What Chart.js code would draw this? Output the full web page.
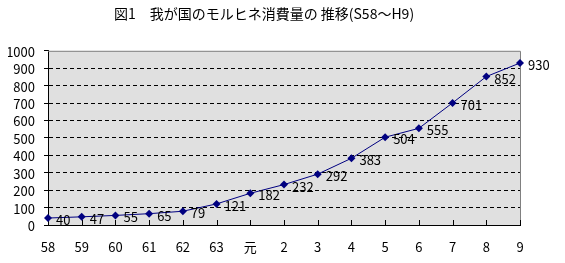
<!DOCTYPE html>
<html>
<head>
<meta charset="utf-8">
<script src="https://cdn.jsdelivr.net/npm/chart.js@4"></script>
<style>
  html, body { margin: 0; padding: 0; background: #fff; }
</style>
</head>
<body>
<canvas id="morphineChart" width="565" height="263"></canvas>
<script>
// データ (S58〜H9)
const years = ["58", "59", "60", "61", "62", "63", "元", "2", "3", "4", "5", "6", "7", "8", "9"];
const usage = [40, 47, 55, 65, 79, 121, 182, 232, 292, 383, 504, 555, 701, 852, 930];
const yMin = 0;
const yMax = 1000;
const yStep = 100;
const chartTitle = "図1　我が国のモルヒネ消費量の 推移(S58～H9)";

const FONT = '"Noto Sans CJK JP", "Noto Sans", sans-serif';

// gray plot background + gray top/right frame + inner x tick marks
const plotFrame = {
  id: "plotFrame",
  beforeDraw(chart) {
    const { ctx, chartArea: a } = chart;
    ctx.save();
    ctx.fillStyle = "#e0e0e0";
    ctx.fillRect(a.left, a.top, a.right - a.left, a.bottom - a.top);
    ctx.restore();
  },
  beforeDatasetsDraw(chart) {
    const { ctx, chartArea: a } = chart;
    const xs = chart.scales.x;
    ctx.save();
    ctx.lineWidth = 1;
    ctx.strokeStyle = "#808080";
    ctx.beginPath();
    ctx.moveTo(a.left, a.top + 0.5);
    ctx.lineTo(a.right + 0.5, a.top + 0.5);
    ctx.lineTo(a.right + 0.5, a.bottom);
    ctx.stroke();
    ctx.strokeStyle = "#000";
    ctx.beginPath();
    xs.ticks.forEach((t, i) => {
      const x = Math.round(xs.getPixelForTick(i)) + 0.5;
      ctx.moveTo(x, a.bottom);
      ctx.lineTo(x, a.bottom - 5);
    });
    ctx.stroke();
    ctx.restore();
  }
};

// value labels to the right of each point
const pointLabels = {
  id: "pointLabels",
  afterDatasetsDraw(chart) {
    const { ctx } = chart;
    const meta = chart.getDatasetMeta(0);
    ctx.save();
    ctx.font = "13px " + FONT;
    ctx.fillStyle = "#000";
    ctx.textAlign = "left";
    ctx.textBaseline = "middle";
    meta.data.forEach((pt, i) => {
      ctx.fillText(String(usage[i]), pt.x + 8, pt.y + 2);
    });
    ctx.restore();
  }
};

new Chart(document.getElementById("morphineChart").getContext("2d"), {
  type: "line",
  data: {
    labels: years,
    datasets: [{
      label: "モルヒネ消費量",
      data: usage,
      borderColor: "#000080",
      backgroundColor: "#000080",
      borderWidth: 1,
      tension: 0,
      pointStyle: "rectRot",
      pointRadius: 4,
      pointHoverRadius: 4,
      pointBorderWidth: 0
    }]
  },
  options: {
    responsive: false,
    animation: false,
    layout: { padding: { left: 8, right: 45, top: 0, bottom: 0 } },
    plugins: {
      legend: { display: false },
      tooltip: { enabled: false },
      title: {
        display: true,
        text: chartTitle,
        color: "#000",
        font: { family: FONT, size: 14, weight: "normal" },
        padding: { top: 5, bottom: 29 }
      }
    },
    scales: {
      x: {
        offset: false,
        grid: { display: true, drawOnChartArea: false, drawTicks: false },
        border: { color: "#000", width: 1 },
        ticks: {
          color: "#000",
          font: { family: FONT, size: 13 },
          padding: 14,
          maxRotation: 0,
          autoSkip: false
        },
        afterFit(scale) { scale.height = 38; }
      },
      y: {
        min: yMin,
        max: yMax,
        grid: {
          color: ctx => (ctx.tick && (ctx.tick.value === yMin || ctx.tick.value === yMax)) ? "rgba(0,0,0,0)" : "#000",
          tickColor: "#000",
          tickLength: 4,
          tickBorderDash: [],
          lineWidth: 1
        },
        border: { color: "#000", width: 1, dash: [4, 3] },
        ticks: {
          stepSize: yStep,
          autoSkip: false,
          color: "#000",
          font: { family: FONT, size: 13 },
          padding: 9,
          labelOffset: 1,
          callback: v => String(v)
        },
        afterFit(scale) { scale.width = 40; }
      }
    }
  },
  plugins: [plotFrame, pointLabels]
});
</script>
</body>
</html>
